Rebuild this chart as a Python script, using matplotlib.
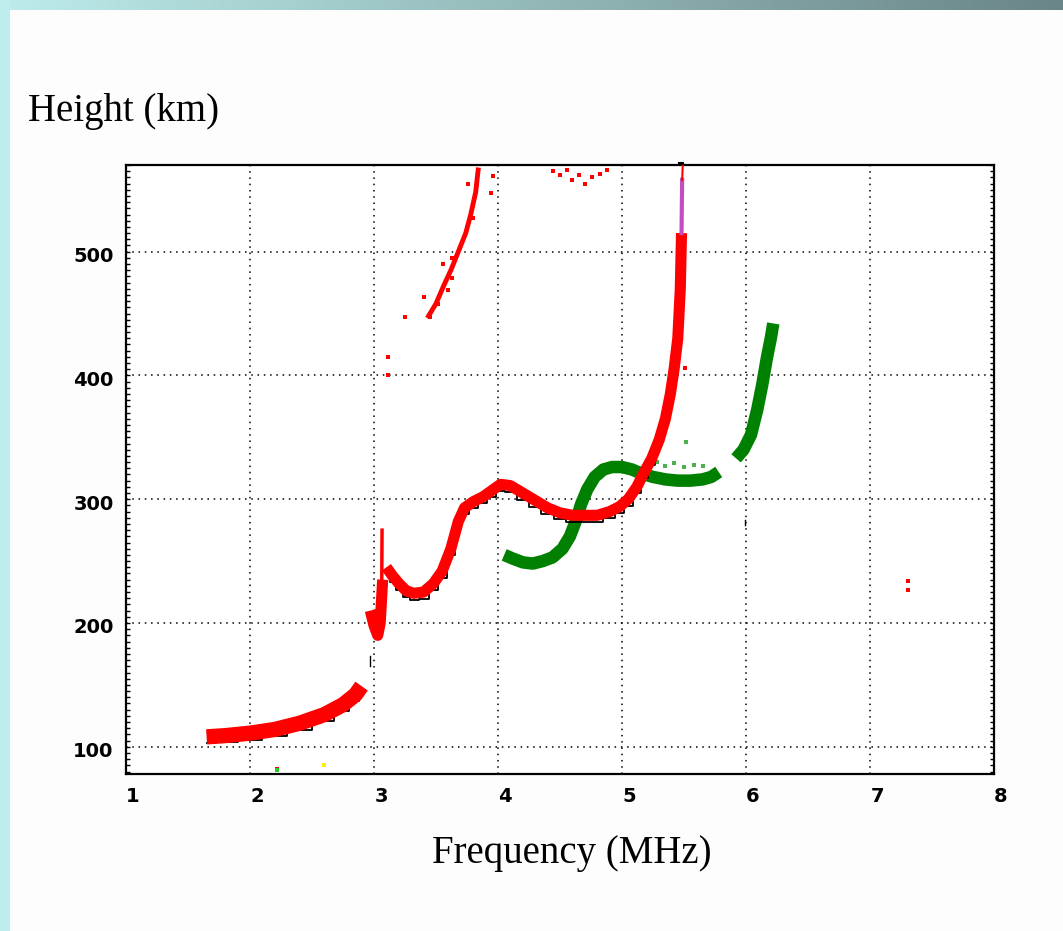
import matplotlib
matplotlib.use("Agg")
import matplotlib.pyplot as plt
import matplotlib.transforms as mtransforms
from matplotlib.ticker import MultipleLocator
import numpy as np

# ---- data ----
# O-mode (red) trace, E / low region
o_low_f = [1.65, 1.8, 2.0, 2.2, 2.4, 2.6, 2.75, 2.85, 2.9]
o_low_h = [108, 109, 111, 114, 119, 126, 134, 142, 149]

# O-mode jump near 3 MHz
o_jump_f = [2.97, 3.0, 3.03, 3.05, 3.07]
o_jump_h = [210, 198, 190, 200, 235]
o_spike_f = [3.06, 3.065]
o_spike_h = [192, 275]

# O-mode F1 / F2 trace
o_main_f = [3.1, 3.15, 3.2, 3.26, 3.32, 3.4, 3.48, 3.55, 3.62, 3.68, 3.73,
            3.8, 3.88, 3.95, 4.02, 4.1, 4.2, 4.3, 4.4, 4.5, 4.6, 4.7, 4.8,
            4.9, 4.98, 5.05, 5.12, 5.18, 5.24, 5.3, 5.35, 5.39, 5.42, 5.45,
            5.47, 5.48]
o_main_h = [245, 238, 232, 226, 224, 225, 232, 242, 260, 282, 293,
            298, 302, 307, 312, 311, 305, 299, 293, 289, 287, 287, 287,
            290, 294, 300, 310, 322, 333, 348, 365, 385, 405, 430,
            470, 515]
o_tip_f = [5.48, 5.485]
o_tip_h = [515, 558]

# second hop (red, scattered)
hop_f = [3.44, 3.5, 3.56, 3.62, 3.68, 3.74, 3.78, 3.82, 3.84]
hop_h = [448, 458, 472, 485, 500, 515, 530, 548, 566]
hop_pts_f = [3.25, 3.4, 3.45, 3.52, 3.56, 3.6, 3.63, 3.63, 3.69, 3.75, 3.76,
             3.8, 3.83, 3.94, 3.96, 3.11, 3.11, 4.44, 4.5, 4.56, 4.6, 4.65,
             4.7, 4.76, 4.82, 4.88, 7.31, 7.31, 5.51, 2.22]
hop_pts_h = [447, 463, 447, 458, 490, 469, 479, 495, 503, 519, 555,
             527, 555, 547, 561, 400, 415, 565, 562, 566, 558, 562,
             555, 560, 563, 566, 227, 234, 406, 82]

# X-mode (green) trace
x_main_f = [4.05, 4.12, 4.2, 4.28, 4.36, 4.44, 4.52, 4.58, 4.63, 4.67, 4.72,
            4.78, 4.85, 4.92, 5.0, 5.08, 5.15, 5.25, 5.35, 5.45, 5.55, 5.65,
            5.72, 5.78]
x_main_h = [255, 252, 249, 248, 250, 253, 260, 270, 283, 296, 308,
            318, 324, 326, 326, 324, 321, 318, 316, 315, 315, 316,
            318, 322]
x_top_f = [5.92, 5.98, 6.04, 6.09, 6.13, 6.17, 6.2, 6.22]
x_top_h = [333, 340, 352, 372, 392, 415, 430, 442]
x_faint_f = [5.2, 5.28, 5.35, 5.42, 5.5, 5.58, 5.65, 5.52]
x_faint_h = [328, 330, 327, 329, 326, 328, 327, 346]

xticks = [1, 2, 3, 4, 5, 6, 7, 8]
yticks = [100, 200, 300, 400, 500]

# ---- figure ----
fig = plt.figure(figsize=(10.63, 9.31), dpi=100)
fig.patch.set_facecolor("#FDFDFD")

# decorative slide border: left strip + top gradient
fig.patches.append(plt.Rectangle((0, 0), 10 / 1063, 1, transform=fig.transFigure,
                                 facecolor="#BDEDED", edgecolor="none", zorder=0))
band = fig.add_axes([0, 1 - 10 / 931, 1, 10 / 931])
grad = np.linspace(0, 1, 256)[None, :]
cmap = matplotlib.colors.LinearSegmentedColormap.from_list("band", ["#BDEBEB", "#6A8585"])
band.imshow(grad, aspect="auto", cmap=cmap)
band.set_axis_off()

ax = fig.add_axes([126 / 1063, 1 - 774 / 931, 868 / 1063, 609 / 931])
ax.set_xlim(1, 8)
ax.set_ylim(78, 570)
ax.set_facecolor("white")

below = mtransforms.offset_copy(ax.transData, fig=fig, x=0, y=-6.5, units="dots")

red = "#FF0000"
green = "#008000"

# red O trace (black leading edge sits just under the red band)
ax.plot(o_low_f, o_low_h, color=red, lw=11, solid_capstyle="butt", zorder=3)
ax.plot(o_low_f, o_low_h, color="black", lw=1.3, transform=below,
        drawstyle="steps-mid", zorder=2.5)
ax.plot(o_jump_f, o_jump_h, color=red, lw=8, solid_capstyle="butt", zorder=3)
ax.plot(o_spike_f, o_spike_h, color=red, lw=2.5, zorder=3)
ax.plot(o_main_f, o_main_h, color=red, lw=8, solid_capstyle="butt", zorder=3)
ax.plot(o_main_f[:30], o_main_h[:30], color="black", lw=1.3, transform=below,
        drawstyle="steps-mid", zorder=2.5)
ax.plot(o_tip_f, o_tip_h, color="#C050C0", lw=3, zorder=3)
ax.plot([5.485, 5.49], [558, 570], color=red, lw=1.5, zorder=3)

# second hop
ax.plot(hop_f, hop_h, color=red, lw=3.5, zorder=3)
ax.scatter(hop_pts_f, hop_pts_h, s=10, marker="s", color=red, lw=0, zorder=3)

# green X trace
ax.plot(x_main_f, x_main_h, color=green, lw=9, solid_capstyle="butt", zorder=2)
ax.plot(x_top_f, x_top_h, color=green, lw=9, solid_capstyle="butt", zorder=2)
ax.scatter(x_faint_f, x_faint_h, s=12, marker="s", color="#4CAF50", lw=0, zorder=2)

# specks
ax.scatter([2.22, 2.6], [81, 85], s=8, marker="s", color=["#22CC22", "#FFEE00"], lw=0, zorder=3)
ax.plot([2.97, 2.97], [165, 173], color="black", lw=1, zorder=3)
ax.plot([5.99, 5.99], [279, 283], color="black", lw=1, zorder=3)
ax.plot([5.46, 5.49], [572, 572], color="black", lw=1.5, zorder=3, clip_on=False)

# grid / axes style
ax.set_xticks(xticks)
ax.set_yticks(yticks)
ax.yaxis.set_minor_locator(MultipleLocator(5))
ax.grid(True, color="black", lw=1.1, linestyle=(0, (1, 3.1)))
ax.set_axisbelow(True)
for s in ax.spines.values():
    s.set_linewidth(1.6)
    s.set_color("black")
ax.tick_params(axis="y", which="both", direction="in", left=True, right=True,
               length=3, width=1, pad=9, labelsize=14)
ax.tick_params(axis="x", which="both", length=0, pad=9, labelsize=14)
for lab in ax.get_xticklabels() + ax.get_yticklabels():
    lab.set_fontweight("bold")
shift = mtransforms.ScaledTranslation(7 / 100, 0, fig.dpi_scale_trans)
for lab in ax.get_xticklabels():
    lab.set_transform(lab.get_transform() + shift)
shift_y = mtransforms.ScaledTranslation(0, -3 / 100, fig.dpi_scale_trans)
for lab in ax.get_yticklabels():
    lab.set_transform(lab.get_transform() + shift_y)

fig.text(28 / 1063, 1 - 112 / 931, "Height (km)", family="Liberation Serif",
         fontsize=28, ha="left", va="center")
fig.text(572 / 1063, 1 - 854 / 931, "Frequency (MHz)", family="Liberation Serif",
         fontsize=28, ha="center", va="center")

fig.savefig("out.png", dpi=100, facecolor=fig.get_facecolor())
